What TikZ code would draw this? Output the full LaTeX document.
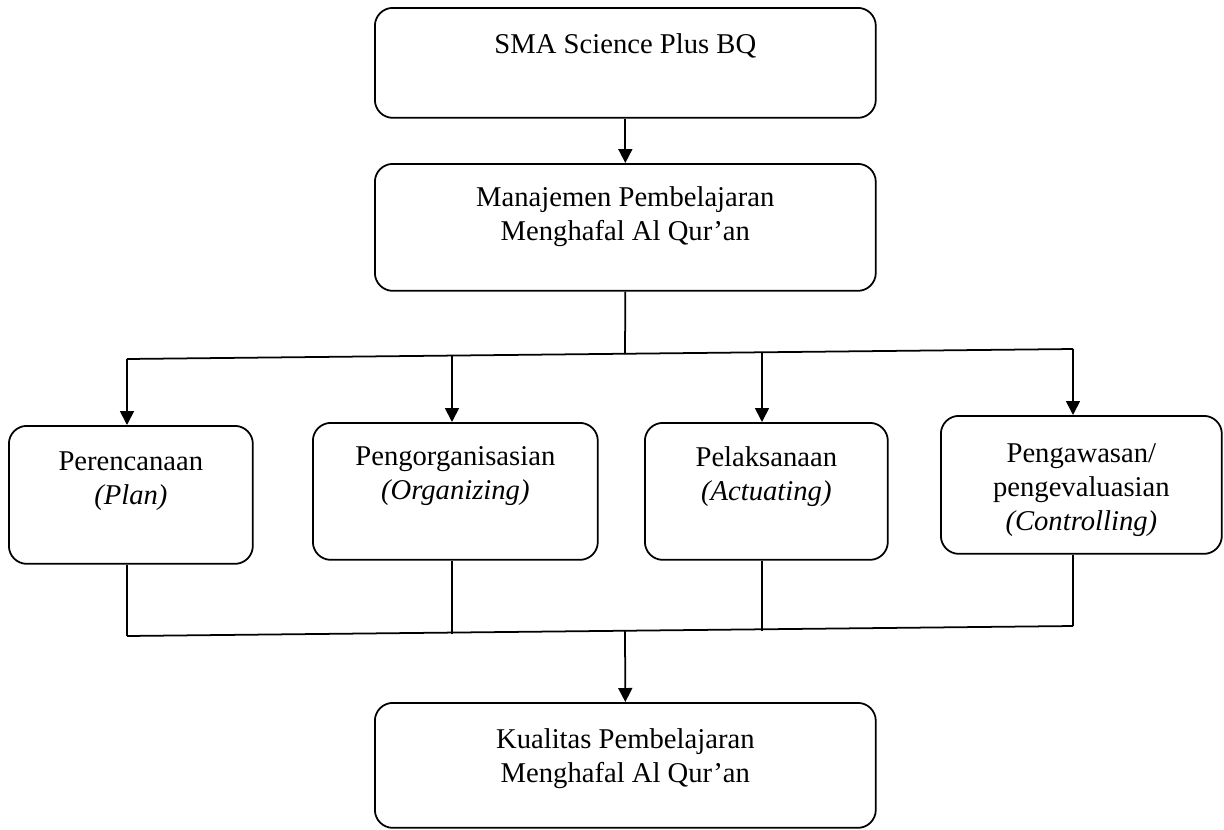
\documentclass[tikz,border=0pt]{standalone}
\usepackage{fontspec}
\setmainfont{Liberation Serif}
\usetikzlibrary{arrows.meta,positioning,calc}

\begin{document}
\begin{tikzpicture}[x=0.02cm, y=-0.02cm, >={Triangle[length=0.28cm,width=0.28cm]}, line width=1pt, font=\fontsize{16.3pt}{19.5pt}\selectfont]
\tikzstyle{box}=[draw=black, rounded corners=0.36cm, anchor=north west, inner sep=0pt]
\tikzstyle{txt}=[align=center, inner sep=0pt]
\useasboundingbox (0,0) rectangle (1224,829);

\node[box, minimum width=10.02cm, minimum height=2.2cm]  (SMA)  at (374,7)   {};
\node[box, minimum width=10.02cm, minimum height=2.54cm] (MP)   at (374,163) {};
\node[box, minimum width=4.88cm, minimum height=2.76cm]  (PLAN) at (8,425)   {};
\node[box, minimum width=5.7cm, minimum height=2.74cm]   (ORG)  at (312,422) {};
\node[box, minimum width=4.86cm, minimum height=2.74cm]  (ACT)  at (644,422) {};
\node[box, minimum width=5.62cm, minimum height=2.76cm]  (CTRL) at (940,415) {};
\node[box, minimum width=10.02cm, minimum height=2.5cm]  (KP)   at (374,702) {};

\node[txt, below=0.51cm of SMA.north]  (SMAt)  {SMA Science Plus BQ};
\node[txt, below=0.45cm of MP.north]   (MPt)   {Manajemen Pembelajaran\\Menghafal Al Qur’an};
\node[txt, below=0.51cm of PLAN.north] (PLANt) {Perencanaan\\\textit{(Plan)}};
\node[txt, below=0.47cm of ORG.north]  (ORGt)  {Pengorganisasian\\\textit{(Organizing)}};
\node[txt, below=0.47cm of ACT.north]  (ACTt)  {Pelaksanaan\\\textit{(Actuating)}};
\node[txt, below=0.55cm of CTRL.north] (CTRLt) {Pengawasan/\\pengevaluasian\\\textit{(Controlling)}};
\node[txt, below=0.51cm of KP.north]   (KPt)   {Kualitas Pembelajaran\\Menghafal Al Qur’an};

\coordinate (T1) at (127,359);
\coordinate (T2) at (452,356);
\coordinate (TM) at (625,354);
\coordinate (T3) at (762,352);
\coordinate (T4) at (1073,349);
\coordinate (B1) at (127,636);
\coordinate (B2) at (452,634);
\coordinate (BM) at (625,631);
\coordinate (B3) at (762,631);
\coordinate (B4) at (1073,626);

\draw[->] (SMA) -- (MP);
\draw (MP.south) -- (TM);
\draw (T1) -- (T4);
\draw[->] (T1) -- (T1 |- PLAN.north);
\draw[->] (T2) -- (T2 |- ORG.north);
\draw[->] (T3) -- (T3 |- ACT.north);
\draw[->] (T4) -- (T4 |- CTRL.north);

\draw (B1 |- PLAN.south) -- (B1);
\draw (B2 |- ORG.south) -- (B2);
\draw (B3 |- ACT.south) -- (B3);
\draw (B4 |- CTRL.south) -- (B4);
\draw (B1) -- (B4);
\draw[->] (BM) -- (KP.north);
\end{tikzpicture}
\end{document}
